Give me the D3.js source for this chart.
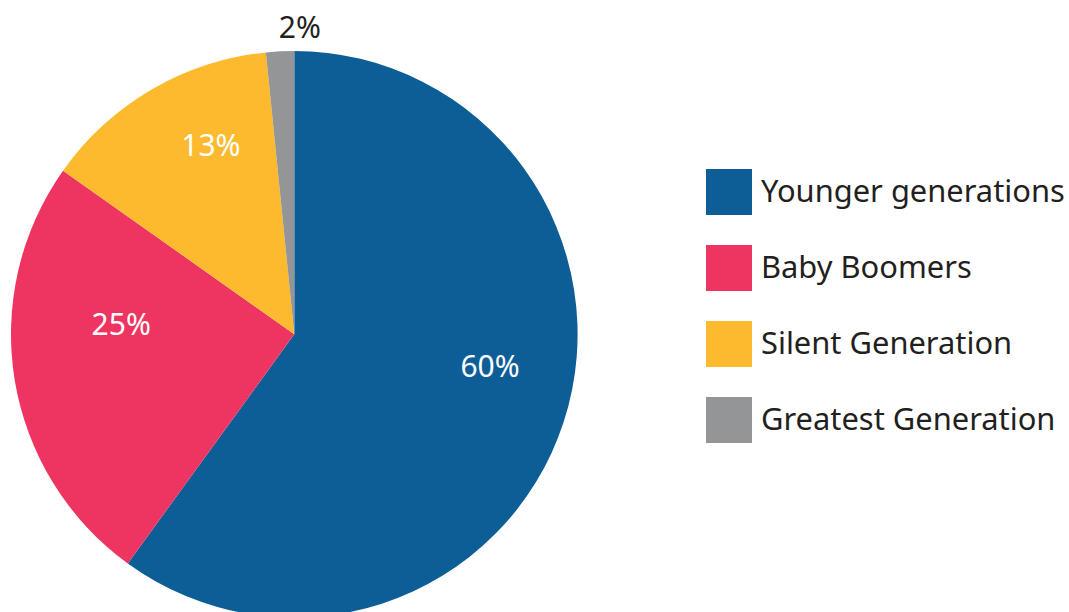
<!DOCTYPE html>
<html>
<head>
<meta charset="utf-8">
<script src="https://cdn.jsdelivr.net/npm/d3@7/dist/d3.min.js"></script>
<style>
  html, body { margin: 0; padding: 0; background: #fff; overflow: hidden; }
  svg { display: block; font-family: "Noto Sans", "Open Sans", sans-serif; }
</style>
</head>
<body>
<div id="chart"></div>
<script>
// data
const categories = ['Younger generations', 'Baby Boomers', 'Silent Generation', 'Greatest Generation'];
const shares = [60, 24.8, 13.6, 1.6];
const shareLabels = ['60%', '25%', '13%', '2%'];
const colors = ['#0d5e96', '#ee3460', '#fdba2e', '#949597'];

const width = 1069, height = 612;
const cx = 294.3, cy = 334.3, radius = 283.3;

const svg = d3.select('#chart').append('svg')
    .attr('width', width)
    .attr('height', height);

const color = d3.scaleOrdinal().domain(categories).range(colors);

const pie = d3.pie()
    .sort(null)
    .value(d => d.value);

const rows = categories.map((c, i) => ({ name: c, value: shares[i], label: shareLabels[i] }));
const arcs = pie(rows);

const arc = d3.arc().innerRadius(0).outerRadius(radius);
const labelArc = d3.arc().innerRadius(radius * 0.68).outerRadius(radius * 0.68);
const outerLabelArc = d3.arc().innerRadius(radius + 25).outerRadius(radius + 25);

const g = svg.append('g').attr('transform', `translate(${cx},${cy})`);

// slices
g.selectAll('path.slice')
    .data(arcs)
    .enter()
    .append('path')
    .attr('class', 'slice')
    .attr('d', arc)
    .attr('fill', d => color(d.data.name));

// label nudges (the original places them by hand)
const nudges = [[12.5, -28], [17, -41], [13.6, -23], [21, 1]];

g.selectAll('text.pct')
    .data(arcs)
    .enter()
    .append('text')
    .attr('class', 'pct')
    .attr('transform', (d, i) => {
        const small = d.endAngle - d.startAngle < 0.2;
        const [x, y] = small ? outerLabelArc.centroid(d) : labelArc.centroid(d);
        return `translate(${x + nudges[i][0]},${y + nudges[i][1]})`;
    })
    .attr('dy', '0.36em')
    .attr('text-anchor', 'middle')
    .style('font-size', '30px')
    .style('fill', d => (d.endAngle - d.startAngle < 0.2) ? '#231f20' : '#ffffff')
    .text(d => d.data.label);

// legend
const legendY = d3.scalePoint()
    .domain(categories)
    .range([192, 420]);

const legend = svg.append('g').attr('class', 'legend');

const item = legend.selectAll('g.item')
    .data(categories)
    .enter()
    .append('g')
    .attr('class', 'item')
    .attr('transform', d => `translate(706,${legendY(d)})`);

item.append('rect')
    .attr('x', 0)
    .attr('y', -23)
    .attr('width', 46)
    .attr('height', 46)
    .attr('fill', d => color(d));

const legendText = item.append('text')
    .attr('x', 55)
    .attr('y', 10)
    .style('font-size', '32px')
    .style('fill', '#231f20')
    .text(d => d);

// shrink font so the longest entry is ~304px wide like the original
const first = legendText.node();
const w = first.getComputedTextLength();
const fs = Math.min(32, 32 * 304 / w);
legendText.style('font-size', fs + 'px');
</script>
</body>
</html>
